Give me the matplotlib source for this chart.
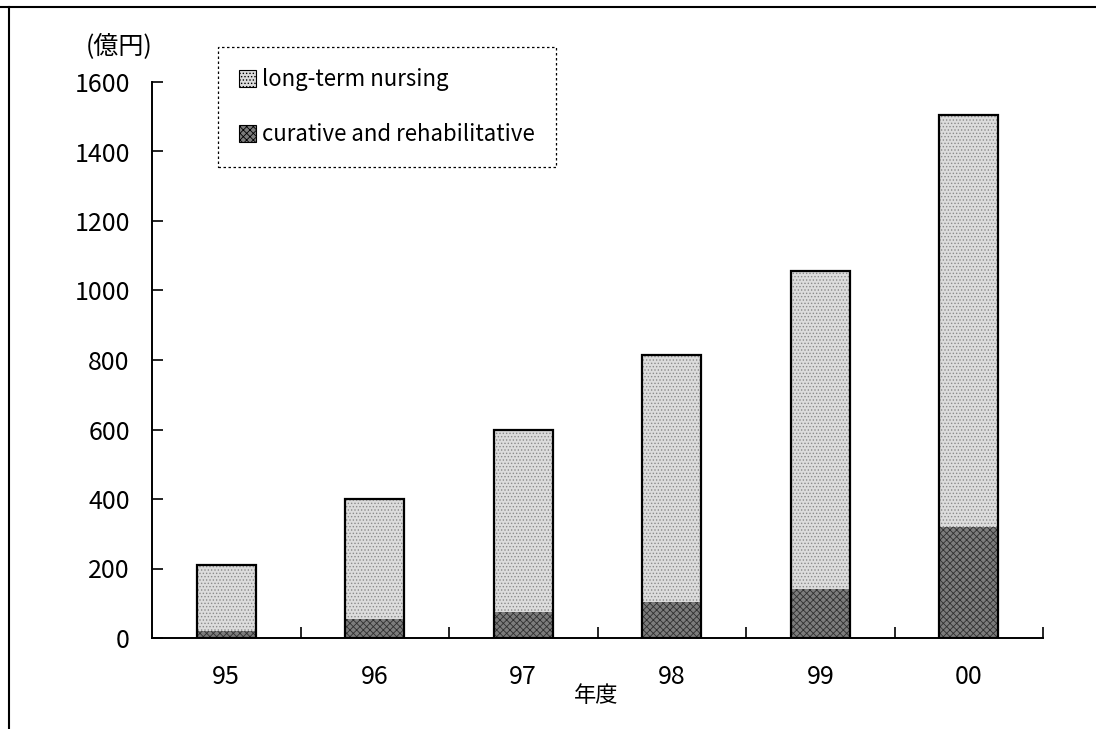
import matplotlib.pyplot as plt
from matplotlib.lines import Line2D

plt.rcParams['font.family'] = ['Noto Sans CJK JP', 'DejaVu Sans']
plt.rcParams['hatch.linewidth'] = 0.6

years = ['95', '96', '97', '98', '99', '00']
curative = [20, 55, 75, 105, 140, 320]
total = [210, 400, 600, 815, 1055, 1505]
long_term = [t - c for t, c in zip(total, curative)]
yticks = [0, 200, 400, 600, 800, 1000, 1200, 1400, 1600]

W, H = 1096, 729
fig = plt.figure(figsize=(W / 100, H / 100), dpi=100)
ax = fig.add_axes([152 / W, 1 - 638 / H, (1043 - 152) / W, (638 - 82) / H])

x = range(len(years))
b1 = ax.bar(x, curative, width=0.4, color='#7c7c7c', hatch='xxxxx',
            edgecolor='#303030', linewidth=0, label='curative and rehabilitative', zorder=2)
b2 = ax.bar(x, long_term, bottom=curative, width=0.4, color='#dcdcdc', hatch='.....',
            edgecolor='#8a8a8a', linewidth=0, label='long-term nursing', zorder=2)
# black outline round each whole bar
ax.bar(x, total, width=0.4, fill=False, edgecolor='black', linewidth=1.6, zorder=3)

ax.set_xlim(-0.5, 5.5)
ax.set_ylim(0, 1600)
ax.set_yticks(yticks)
ax.set_yticklabels([str(v) for v in yticks])
ax.tick_params(axis='y', direction='in', length=8, width=1.2, pad=16, labelsize=18)

# ticks between the years, labels under each bar
ax.set_xticks([i + 0.5 for i in range(len(years))])
ax.set_xticklabels([])
ax.set_xticks(list(x), minor=True)
ax.set_xticklabels(years, minor=True)
ax.tick_params(axis='x', which='major', direction='in', length=8, width=1.2)
ax.tick_params(axis='x', which='minor', length=0, pad=19, labelsize=18)

for s in ['top', 'right']:
    ax.spines[s].set_visible(False)
for s in ['left', 'bottom']:
    ax.spines[s].set_linewidth(1.4)

fig.text(119 / W, 1 - 47 / H, '(億円)', ha='center', va='center', fontsize=18)
fig.text(596 / W, 1 - 695 / H, '年度', ha='center', va='center', fontsize=16)

leg = fig.legend([b2, b1], ['long-term nursing', 'curative and rehabilitative'],
                 loc='upper left', bbox_to_anchor=(218 / W, 1 - 47 / H), borderaxespad=0,
                 fontsize=16, handlelength=0.75, handleheight=0.75, handletextpad=0.3,
                 labelspacing=1.45, borderpad=0.95, fancybox=False, framealpha=1,
                 edgecolor='black')
leg.get_frame().set_linestyle((0, (2, 2)))
leg.get_frame().set_linewidth(0.9)
for h in leg.legend_handles:
    h.set_edgecolor('black')
    h.set_linewidth(0.8)

# page frame
fig.add_artist(Line2D([0, 1], [1 - 7 / H, 1 - 7 / H], color='black', lw=1.5))
fig.add_artist(Line2D([9 / W, 9 / W], [0, 1 - 7 / H], color='black', lw=1.5))

fig.savefig('out.png', dpi=100)
